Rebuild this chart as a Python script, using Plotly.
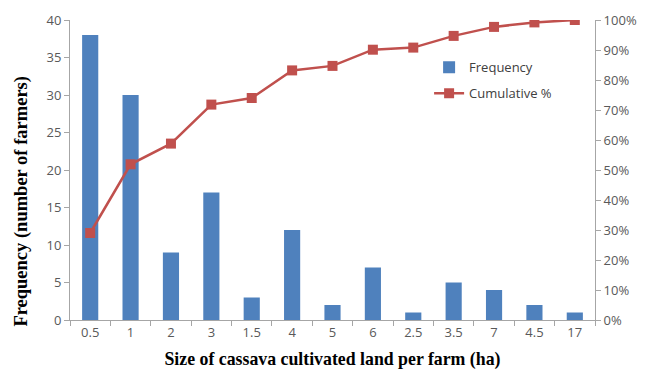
import plotly.graph_objects as go

categories = ["0.5", "1", "2", "3", "1.5", "4", "5", "6", "2.5", "3.5", "7", "4.5", "17"]
frequency = [38, 30, 9, 17, 3, 12, 2, 7, 1, 5, 4, 2, 1]
cumulative_pct = [29.0, 51.9, 58.8, 71.8, 74.0, 83.2, 84.7, 90.1, 90.8, 94.7, 97.7, 99.2, 100.0]
left_ticks = [0, 5, 10, 15, 20, 25, 30, 35, 40]
right_ticks = [0, 10, 20, 30, 40, 50, 60, 70, 80, 90, 100]
right_labels = [f"{v}%" for v in right_ticks]

tick_font = dict(family="Open Sans, Liberation Sans, sans-serif", size=13, color="#595959")
xtitle_font = dict(family="Liberation Serif, Times New Roman, serif", size=17.8, color="#000000")
ytitle_font = dict(family="Liberation Serif, Times New Roman, serif", size=18.5, color="#000000")

fig = go.Figure()
fig.add_trace(go.Bar(x=categories, y=frequency, name="Frequency", legendgroup="a",
                     marker=dict(color="#4F81BD", line=dict(width=0))))
fig.add_trace(go.Scatter(x=categories, y=cumulative_pct, name="Cumulative %", yaxis="y2",
                         legendgroup="b", mode="lines+markers",
                         line=dict(color="#C0504D", width=2.5),
                         marker=dict(symbol="square", size=10, color="#C0504D")))

fig.update_layout(
    width=639, height=366,
    margin=dict(l=62, r=52, t=12, b=54, autoexpand=False),
    plot_bgcolor="white", paper_bgcolor="white",
    bargap=0.6,
    showlegend=True,
    legend=dict(x=0.684, y=0.892, xanchor="left", yanchor="top",
                font=dict(family="Open Sans, Liberation Sans, sans-serif", size=13, color="#404040"),
                bgcolor="rgba(0,0,0,0)", tracegroupgap=6, itemwidth=30),
    xaxis=dict(type="category", range=[-0.5, 12.5], autorange=False, showgrid=False,
               showline=True, linecolor="#A6A6A6", automargin=False,
               ticks="outside", tickson="boundaries", tickcolor="#A6A6A6", ticklen=5,
               tickfont=tick_font,
               title=dict(text="<b>Size of cassava cultivated land per farm (ha)</b>",
                          font=xtitle_font, standoff=12)),
    yaxis=dict(range=[0, 40], tickvals=left_ticks, showgrid=False, zeroline=False,
               showline=True, linecolor="#A6A6A6", ticks="outside", tickcolor="#A6A6A6",
               ticklen=5, tickfont=tick_font, automargin=False),
    yaxis2=dict(range=[0, 100], tickvals=right_ticks, ticktext=right_labels, overlaying="y",
                side="right", showgrid=False, zeroline=False, showline=True,
                linecolor="#A6A6A6", ticks="outside", tickcolor="#A6A6A6", ticklen=5,
                tickfont=tick_font, automargin=False),
    annotations=[dict(text="<b>Frequency (number of farmers)</b>", font=ytitle_font,
                      textangle=-90, xref="paper", yref="paper", x=-0.092, y=0.397,
                      xanchor="center", yanchor="middle", showarrow=False)],
)

fig.write_html("out.html")
